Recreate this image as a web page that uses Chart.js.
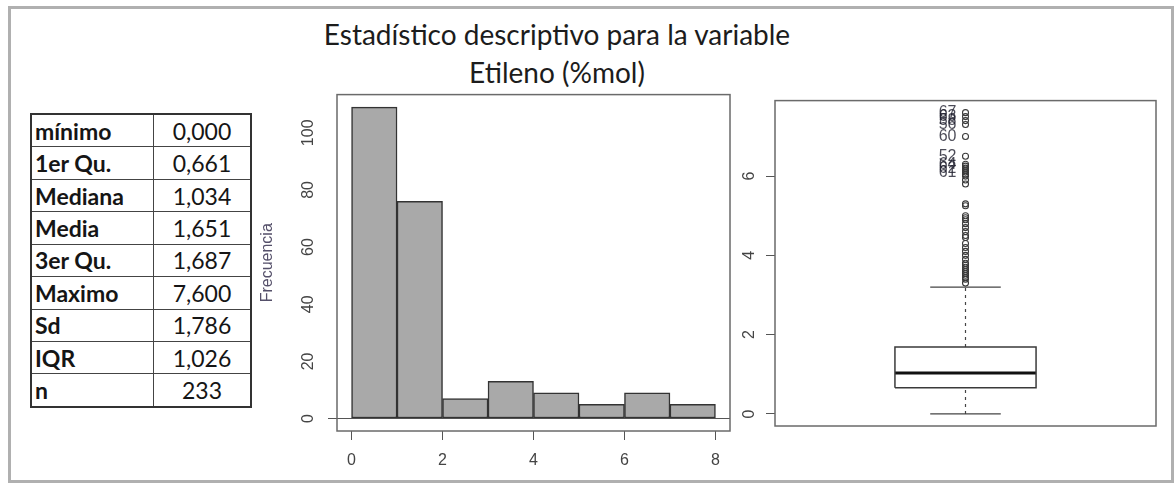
<!DOCTYPE html>
<html>
<head>
<meta charset="utf-8">
<script src="https://cdn.jsdelivr.net/npm/chart.js@4.4.1/dist/chart.umd.min.js"></script>
<style>
  body { margin: 0; width: 1176px; height: 483px; background: #fff; position: relative; overflow: hidden; font-family: Lato, sans-serif; }
  #frame { position: absolute; left: 8px; top: 6px; width: 1160px; height: 471px; border: 3px solid #b0b0b0; }
  #title { position: absolute; left: 280px; width: 554px; top: 15px; text-align: center; font-size: 28px; line-height: 38px; color: #1c1c1c; }
  #stats { position: absolute; left: 30px; top: 113px; width: 222px; height: 295px; border-collapse: collapse; table-layout: fixed; border: 2px solid #333; }
  #stats td { border: 1.5px solid #444; padding: 0 0 0 3px; font-size: 23px; color: #151515; white-space: nowrap; overflow: hidden; }
  #stats td.name { font-weight: bold; width: 118px; }
  #stats td.val { text-align: center; padding: 0; }
  #hist { position: absolute; left: 250px; top: 79px; }
  #box { position: absolute; left: 740px; top: 79px; }
</style>
</head>
<body>
<div id="frame"></div>
<div id="title">Estadístico descriptivo para la variable<br>Etileno (%mol)</div>
<table id="stats"></table>
<canvas id="hist" width="495" height="401"></canvas>
<canvas id="box" width="430" height="401"></canvas>
<script>
// summary table
const statNames = ['mínimo', '1er Qu.', 'Mediana', 'Media', '3er Qu.', 'Maximo', 'Sd', 'IQR', 'n'];
const statValues = ['0,000', '0,661', '1,034', '1,651', '1,687', '7,600', '1,786', '1,026', '233'];

// histogram
const histBreaks = [0, 1, 2, 3, 4, 5, 6, 7, 8];
const histCounts = [109, 76, 7, 13, 9, 5, 9, 5];
const histXTicks = [0, 2, 4, 6, 8];
const histYTicks = [0, 20, 40, 60, 80, 100];

// boxplot: lower whisker, Q1, median, Q3, upper whisker
const boxFive = [0, 0.661, 1.034, 1.687, 3.2];
const outliers = [7.6, 7.5, 7.4, 7.3, 7.0, 6.5, 6.3, 6.25, 6.2, 6.15, 6.1, 6.05, 6.0, 5.9, 5.8,
                  5.3, 5.25, 5.0, 4.95, 4.9, 4.8, 4.7, 4.6, 4.5, 4.45, 4.3, 4.2, 4.1, 4.0,
                  3.9, 3.8, 3.75, 3.7, 3.65, 3.6, 3.55, 3.5, 3.45, 3.4, 3.3];
const outlierIdValues = [7.6, 7.5, 7.4, 7.3, 7.0, 6.5, 6.3, 6.2, 6.1];
const outlierIds = ['67', '63', '58', '56', '60', '52', '64', '62', '61'];
const boxYTicks = [0, 2, 4, 6];

// table
const tbl = document.getElementById('stats');
statNames.forEach((name, i) => {
    const tr = document.createElement('tr');
    tr.innerHTML = '<td class="name">' + name + '</td><td class="val">' + statValues[i] + '</td>';
    tbl.appendChild(tr);
});

const axisFont = { family: 'Liberation Sans', size: 16 };

// R-style box around the plot region
const frame = {
    id: 'frame',
    beforeDatasetsDraw(chart) {
        const a = chart.chartArea, c = chart.ctx;
        c.save();
        c.strokeStyle = '#6a6a6a';
        c.lineWidth = 1.5;
        c.strokeRect(a.left, a.top, a.right - a.left, a.bottom - a.top);
        c.restore();
    }
};

// Histogram
new Chart(document.getElementById('hist'), {
    type: 'bar',
    data: {
        datasets: [{
            data: histCounts.map((c, i) => ({ x: (histBreaks[i] + histBreaks[i + 1]) / 2, y: c })),
            backgroundColor: '#a9a9a9',
            borderColor: '#333',
            borderWidth: 1.5,
            borderSkipped: false,
            barPercentage: 1,
            categoryPercentage: 1
        }]
    },
    options: {
        responsive: false,
        animation: false,
        layout: { padding: { top: 0, right: 15, left: 0, bottom: 0 } },
        plugins: { legend: { display: false }, tooltip: { enabled: false } },
        scales: {
            x: {
                type: 'linear',
                min: -0.32, max: 8.32,
                offset: false,
                afterBuildTicks: s => { s.ticks = histXTicks.map(v => ({ value: v })); },
                afterFit: s => { s.height = 49; },
                grid: { offset: false, drawOnChartArea: false, tickLength: 9, color: '#555' },
                border: { display: false },
                ticks: { font: axisFont, color: '#444', padding: 11, maxRotation: 0 }
            },
            y: {
                min: -4.36, max: 113.36,
                afterBuildTicks: s => { s.ticks = histYTicks.map(v => ({ value: v })); },
                afterFit: s => { s.width = 87; },
                grid: { color: c => (c.tick && c.tick.value === 0) ? '#555' : 'rgba(0,0,0,0)', tickLength: 9 },
                border: { display: false },
                ticks: { font: axisFont, color: '#444', minRotation: 90, maxRotation: 90, crossAlign: 'center', padding: 6, autoSkip: false },
                title: { display: true, text: 'Frecuencia', font: { family: 'Liberation Sans', size: 16 }, color: '#55506a', padding: { top: 8, bottom: 0 } }
            }
        }
    },
    plugins: [frame]
});

// Boxplot
const bx = 1, boxHalf = 0.2, capHalf = 0.1;
const [wLo, q1, med, q3, wHi] = boxFive;

const outlierText = {
    id: 'outlierText',
    afterDatasetsDraw(chart) {
        const { ctx, scales: { x, y } } = chart;
        ctx.save();
        ctx.font = '16px "Liberation Sans"';
        ctx.fillStyle = 'rgba(30,30,45,0.8)';
        ctx.textAlign = 'right';
        ctx.textBaseline = 'middle';
        outlierIdValues.forEach((v, i) => {
            ctx.fillText(outlierIds[i], x.getPixelForValue(bx) - 9, y.getPixelForValue(v));
        });
        ctx.restore();
    }
};

const seg = (color, width, dash) => ({
    showLine: true, borderColor: color, borderWidth: width, borderDash: dash || [],
    pointRadius: 0, tension: 0
});

new Chart(document.getElementById('box'), {
    type: 'scatter',
    data: {
        datasets: [
            Object.assign({ data: [{ x: bx - boxHalf, y: q1 }, { x: bx + boxHalf, y: q1 }, { x: bx + boxHalf, y: q3 },
                                   { x: bx - boxHalf, y: q3 }, { x: bx - boxHalf, y: q1 }] }, seg('#3a3a3a', 1.5)),
            Object.assign({ data: [{ x: bx - boxHalf, y: med }, { x: bx + boxHalf, y: med }] }, seg('#111', 3)),
            Object.assign({ data: [{ x: bx, y: q3 }, { x: bx, y: wHi }] }, seg('#444', 1.2, [3, 4])),
            Object.assign({ data: [{ x: bx, y: wLo }, { x: bx, y: q1 }] }, seg('#444', 1.2, [3, 4])),
            Object.assign({ data: [{ x: bx - capHalf, y: wHi }, { x: bx + capHalf, y: wHi }] }, seg('#444', 1.3)),
            Object.assign({ data: [{ x: bx - capHalf, y: wLo }, { x: bx + capHalf, y: wLo }] }, seg('#444', 1.3)),
            {
                data: outliers.map(v => ({ x: bx, y: v })),
                pointRadius: 3,
                pointStyle: 'circle',
                borderColor: '#3a3a3a',
                backgroundColor: 'rgba(0,0,0,0)',
                borderWidth: 1.1,
                showLine: false
            }
        ]
    },
    options: {
        responsive: false,
        animation: false,
        layout: { padding: { top: 0, right: 14, left: 0, bottom: 54 } },
        plugins: { legend: { display: false }, tooltip: { enabled: false } },
        scales: {
            x: { type: 'linear', display: false, min: 0.46, max: 1.54 },
            y: {
                min: -0.304, max: 7.904,
                afterBuildTicks: s => { s.ticks = boxYTicks.map(v => ({ value: v })); },
                afterFit: s => { s.width = 35; },
                grid: { drawOnChartArea: false, tickLength: 9, color: '#555' },
                border: { display: false },
                ticks: { font: axisFont, color: '#444', minRotation: 90, maxRotation: 90, crossAlign: 'center', padding: 12, autoSkip: false }
            }
        }
    },
    plugins: [frame, outlierText]
});
</script>
</body>
</html>
